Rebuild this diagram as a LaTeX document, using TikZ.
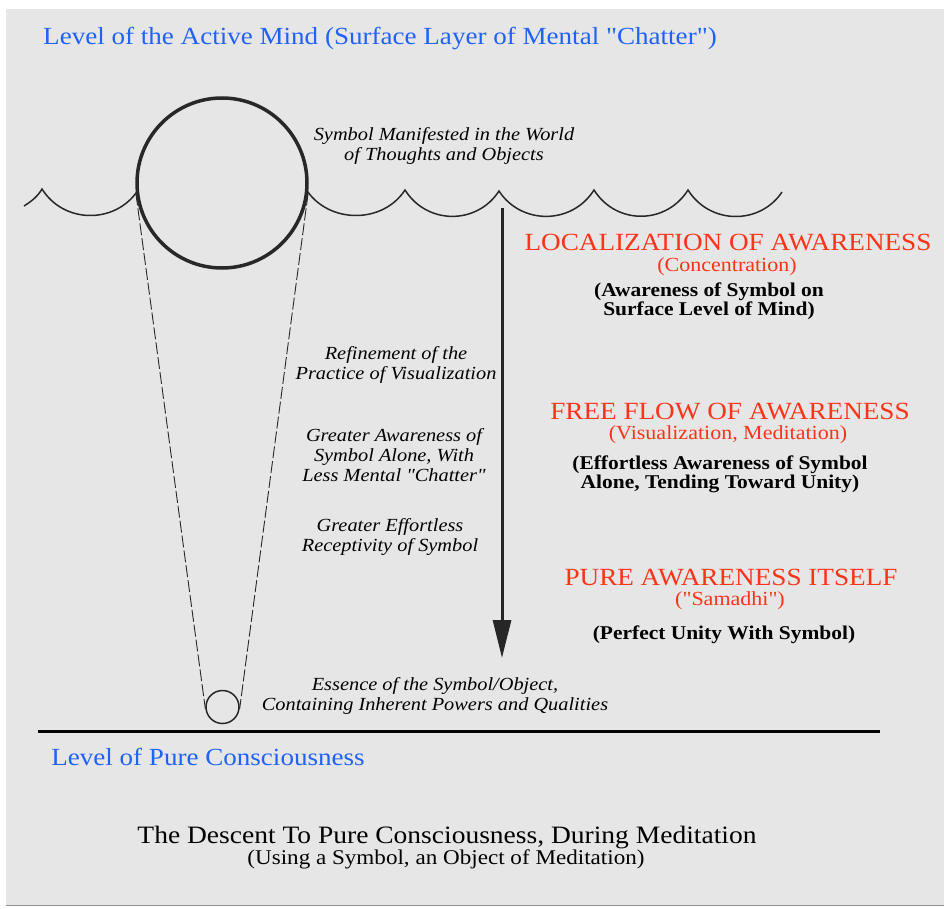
\documentclass[tikz,border=0pt]{standalone}
\usepackage{fontspec}
\setmainfont{Liberation Serif}[FakeStretch=1.1, Ligatures=TeXOff]
\usetikzlibrary{arrows.meta}
\definecolor{panel}{RGB}{230,230,230}
\definecolor{levelblue}{RGB}{32,98,250}
\definecolor{stagered}{RGB}{255,52,24}
\definecolor{ink}{RGB}{40,40,40}
\tikzset{
  levellabel/.style={text=levelblue, inner sep=0pt, font=\fontsize{24.6}{26}\selectfont},
  stagehead/.style={text=stagered, inner sep=0pt, font=\fontsize{24.7}{26}\selectfont},
  stagesub/.style={text=stagered, inner sep=0pt, font=\fontsize{20}{22}\selectfont},
  stagenote/.style={text=black, inner sep=0pt, align=center, font=\bfseries\fontsize{19.5}{19}\selectfont},
  sidenote/.style={text=black, inner sep=0pt, align=center, font=\itshape\fontsize{18.5}{20}\selectfont},
  wave/.style={draw=ink, line width=1.5pt},
  dashline/.style={draw=ink, line width=0.9pt, dash pattern=on 12pt off 3pt},
}
\begin{document}
\begin{tikzpicture}[x=1pt,y=-1pt]
  \useasboundingbox (0,0) rectangle (944,909);
  % background panel
  \fill[panel] (6,9) rectangle (944,905);
  \draw[black!45, line width=1pt] (6,905.5) -- (944,905.5);

  % symbol on the surface and its essence at the bottom
  \node[circle, draw=ink, line width=3.5pt, minimum size=170pt, inner sep=0pt] (big) at (222,183) {};
  \node[circle, draw=ink, line width=1.5pt, minimum size=33pt, inner sep=0pt] (small) at (222.5,707) {};
  \draw[dashline] (big.187.5) -- (small.187.5);
  \draw[dashline] (big.-7.5) -- (small.-7.5);

  % surface waves of mental chatter
  \draw[wave] (24,206) .. controls (32,201) and (38,196) .. (42,189)
      .. controls (64,224) and (115,224) .. (137.5,191);
  \draw[wave] (306.5,190) .. controls (329,224) and (383,224) .. (405,190)
      .. controls (427,225) and (477,225) .. (499,191)
      .. controls (521,225) and (572,225) .. (594,190)
      .. controls (616,225) and (666,225) .. (688,190)
      .. controls (710,225) and (760,225) .. (782,192);

  % descent arrow
  \coordinate (arrtop) at (502,208);
  \coordinate (arrtip) at (502,658);
  \draw[black!85, line width=3pt, -{Triangle[length=38pt,width=18pt]}] (arrtop) -- (arrtip);

  % level of pure consciousness
  \coordinate (baseL) at (38,731);
  \coordinate (baseR) at (880,731);
  \draw[black, line width=3pt] (baseL) -- (baseR);

  % level labels
  \node[levellabel] (toplevel) at (380,38) {Level of the Active Mind (Surface Layer of Mental "Chatter")};
  \node[levellabel] (purelevel) at (208,757) {Level of Pure Consciousness};

  % notes along the descent
  \node[sidenote] (manifest) at (444,146) {Symbol Manifested in the World\\of Thoughts and Objects};
  \node[sidenote] (refine) at (396,365) {Refinement of the\\Practice of Visualization};
  \node[sidenote] (greater) at (394,455) {Greater Awareness of\\Symbol Alone, With\\Less Mental "Chatter"};
  \node[sidenote] (effortless) at (390,537) {Greater Effortless\\Receptivity of Symbol};
  \node[sidenote] (essence) at (435,696) {Essence of the Symbol/Object,\\Containing Inherent Powers and Qualities};

  % stages of awareness
  \node[stagehead] (loc) at (728,243) {LOCALIZATION OF AWARENESS};
  \node[stagesub] (locsub) at (727,267) {(Concentration)};
  \node[stagenote] (locnote) at (709,301) {(Awareness of Symbol on\\Surface Level of Mind)};

  \node[stagehead] (flow) at (730,412) {FREE FLOW OF AWARENESS};
  \node[stagesub] (flowsub) at (728,435) {(Visualization, Meditation)};
  \node[stagenote] (flownote) at (720,474) {(Effortless Awareness of Symbol\\Alone, Tending Toward Unity)};

  \node[stagehead] (pure) at (731,578) {PURE AWARENESS ITSELF};
  \node[stagesub] (puresub) at (730,601) {("Samadhi")};
  \node[stagenote] (purenote) at (724,635) {(Perfect Unity With Symbol)};

  % caption
  \node[inner sep=0pt, font=\fontsize{25}{27}\selectfont] (caption) at (447,838) {The Descent To Pure Consciousness, During Meditation};
  \node[inner sep=0pt, font=\fontsize{21}{23}\selectfont] (subcaption) at (446,859) {(Using a Symbol, an Object of Meditation)};
\end{tikzpicture}
\end{document}
